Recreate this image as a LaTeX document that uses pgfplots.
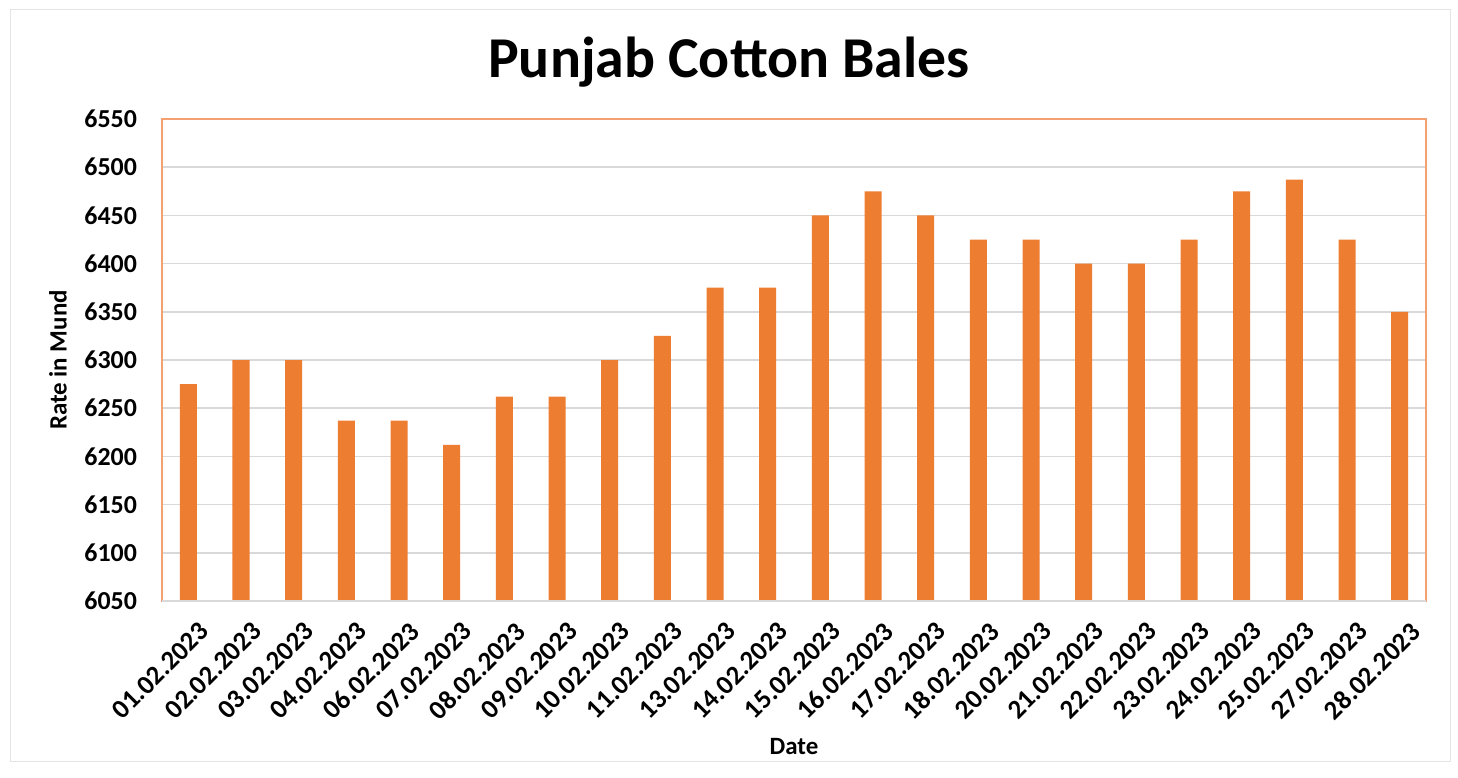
\documentclass[border=0pt]{standalone}
\usepackage{pgfplots}
\pgfplotsset{compat=1.18}
\usepackage{fontspec}
\setmainfont{Carlito}
\definecolor{barorange}{HTML}{ED7D31}
\definecolor{frameorange}{HTML}{F4A070}
\definecolor{gridgray}{HTML}{D9D9D9}
\begin{document}
\begin{tikzpicture}[x=1bp,y=1bp]
\useasboundingbox (-81,-88) rectangle (648,300.5);
\draw[gridgray!70, fill=white] (-76,-80) rectangle (644,296);
\node[font=\fontsize{29}{29}\selectfont\bfseries, anchor=base] at (283.5,262) {Punjab Cotton Bales};
\begin{axis}[
  at={(0,0)}, anchor=south west,
  scale only axis, width=632bp, height=241bp,
  ymin=6050, ymax=6550, ytick distance=50,
  xmin=-0.5, xmax=23.5,
  xtick={0,...,23},
  xticklabels={01.02.2023,02.02.2023,03.02.2023,04.02.2023,06.02.2023,07.02.2023,08.02.2023,09.02.2023,10.02.2023,11.02.2023,13.02.2023,14.02.2023,15.02.2023,16.02.2023,17.02.2023,18.02.2023,20.02.2023,21.02.2023,22.02.2023,23.02.2023,24.02.2023,25.02.2023,27.02.2023,28.02.2023},
  x tick label style={rotate=45, anchor=north east, font=\fontsize{13.5}{13.5}\selectfont\bfseries, inner sep=1pt, xshift=-2.5bp, yshift=-9bp},
  y tick label style={font=\fontsize{13}{13}\selectfont\bfseries, xshift=-9bp},
  /pgf/number format/assume math mode=true,
  /pgf/number format/1000 sep={},
  major tick length=0pt,
  ymajorgrids, grid style={gridgray, line width=0.8pt},
  axis line style={frameorange, line width=0.8pt},
  xlabel={Date}, ylabel={Rate in Mund},
  label style={font=\fontsize{12.5}{12.5}\selectfont\bfseries},
  xlabel style={yshift=-3.5bp},
  ylabel style={yshift=2bp},
  clip=false,
]
\addplot[ybar, bar width=8.5bp, fill=barorange, draw=none] coordinates {
(0,6275) (1,6300) (2,6300) (3,6237) (4,6237) (5,6212) (6,6262) (7,6262)
(8,6300) (9,6325) (10,6375) (11,6375) (12,6450) (13,6475) (14,6450) (15,6425)
(16,6425) (17,6400) (18,6400) (19,6425) (20,6475) (21,6487) (22,6425) (23,6350)
};
\draw[gridgray, line width=1pt] (rel axis cs:0,0) -- (rel axis cs:1,0);
\end{axis}
\end{tikzpicture}
\end{document}
